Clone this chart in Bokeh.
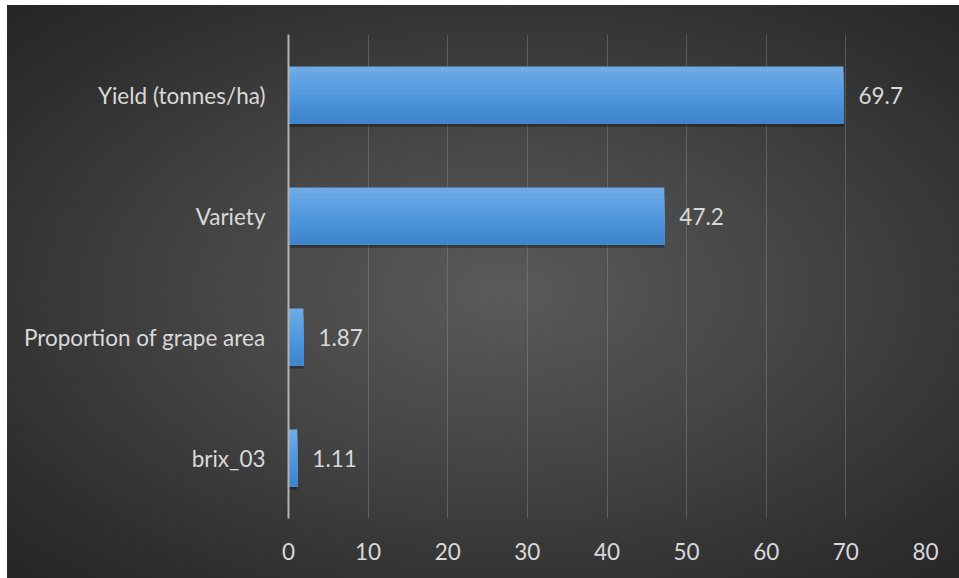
from bokeh.plotting import figure
from bokeh.models import ColumnDataSource, FactorRange
from bokeh.transform import dodge
from bokeh.core.properties import value
from bokeh.embed import file_html
from bokeh.resources import INLINE

# Feature importance values
features = ["brix_03", "Proportion of grape area", "Variety", "Yield (tonnes/ha)"]
importance = [1.11, 1.87, 47.2, 69.7]
labels = ["1.11", "1.87", "47.2", "69.7"]
x_ticks = [0, 10, 20, 30, 40, 50, 60, 70, 80]

FONT = "Lato"
FONT_SIZE = "22.5px"
TEXT_COLOR = "#d9d9d9"

src = ColumnDataSource(dict(feature=features, importance=importance, label=labels))

p = figure(
    width=952, height=573,
    y_range=FactorRange(factors=features, range_padding=0),
    x_range=(0, 80),
    output_backend="svg", toolbar_location=None,
    min_border_left=281, min_border_right=34,
    min_border_top=29, min_border_bottom=60,
)
p.margin = (5, 0, 0, 7)
p.styles = {
    "background-image": "radial-gradient(ellipse at 52% 50%, #5a5a5a 0%, #464646 40%, #2c2c2c 85%, #262626 100%)",
}
p.background_fill_alpha = 0
p.border_fill_alpha = 0
p.outline_line_color = None

bar_h = 0.47

# soft shadow beneath each bar
p.hbar(y=dodge("feature", -0.028, range=p.y_range), right="importance", left=0,
       height=bar_h, source=src, fill_color="#000000", fill_alpha=0.32, line_color=None)

# shaded bars: lightest layer covers the full bar, darker layers are stacked
# from the bottom edge upward so the shading runs light (top) to dark (bottom)
shade_colors = ["#6eaae4", "#67a6e3", "#61a2e2", "#5b9ee1", "#559adf",
                "#5096dc", "#4b92d9", "#478dd5", "#4389d1", "#3f86cd"]
n = len(shade_colors)
for i, c in enumerate(shade_colors):
    h = bar_h * (n - i) / n
    off = -bar_h / 2 + h / 2
    p.hbar(y=dodge("feature", off, range=p.y_range), right="importance", left=0,
           height=h, source=src, fill_color=c, line_color=None)

# value labels to the right of each bar
p.text(x="importance", y="feature", text="label", source=src,
       x_offset=15, text_baseline="middle", text_align="left",
       text_font=value(FONT), text_font_size=FONT_SIZE, text_color=TEXT_COLOR)

# axes
p.xaxis.ticker = x_ticks
p.xaxis.axis_line_color = None
p.xaxis.major_tick_line_color = None
p.xaxis.minor_tick_line_color = None
p.xaxis.major_label_standoff = 18
p.xaxis.major_label_text_font = FONT
p.xaxis.major_label_text_font_size = FONT_SIZE
p.xaxis.major_label_text_color = TEXT_COLOR

p.yaxis.axis_line_color = "#b3b3b3"
p.yaxis.axis_line_width = 2
p.yaxis.major_tick_line_color = None
p.yaxis.minor_tick_line_color = None
p.yaxis.major_label_standoff = 17
p.yaxis.major_label_text_font = FONT
p.yaxis.major_label_text_font_size = FONT_SIZE
p.yaxis.major_label_text_color = TEXT_COLOR

p.ygrid.grid_line_color = None
p.xgrid.ticker = x_ticks[1:]
p.xgrid.grid_line_color = "#8a8a8a"
p.xgrid.grid_line_alpha = 0.45
p.xgrid.grid_line_width = 1

open("out.html", "w").write(file_html(p, INLINE))
